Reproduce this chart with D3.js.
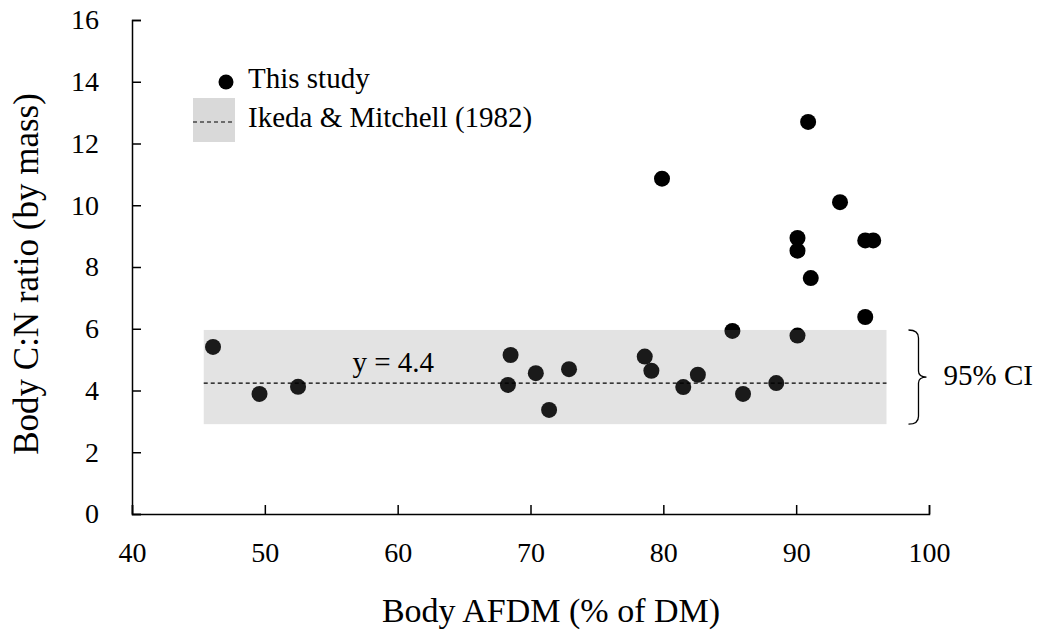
<!DOCTYPE html>
<html>
<head>
<meta charset="utf-8">
<script src="https://cdn.jsdelivr.net/npm/d3@7"></script>
<style>
  body { margin: 0; background: #fff; }
  text { font-family: 'Liberation Serif', 'Times New Roman', serif; fill: #000; }
</style>
</head>
<body>
<div id="chart"></div>
<script>
// data
const afdm = [46.1, 49.6, 52.5, 68.3, 68.5, 70.4, 71.4, 72.9, 78.6, 79.1, 79.9, 81.5, 82.6,
  85.2, 86.0, 88.5, 90.1, 90.1, 90.1, 90.9, 91.1, 93.3, 95.2, 95.2, 95.8]
const cnRatio = [5.41, 3.89, 4.12, 4.18, 5.15, 4.56, 3.37, 4.69, 5.10, 4.64, 10.86, 4.11, 4.51,
  5.93, 3.89, 4.24, 5.78, 8.53, 8.94, 12.70, 7.64, 10.10, 6.38, 8.86, 8.86]
const xTicks = [40, 50, 60, 70, 80, 90, 100]
const yTicks = [0, 2, 4, 6, 8, 10, 12, 14, 16]
const ikedaMean = 4.24
const ciRange = [2.91, 5.96]
const bandExtent = [45.4, 96.8]

const width = 1041
const height = 637
const margin = { top: 20, right: 112, bottom: 123, left: 132 }

const svg = d3.select('#chart')
  .append('svg')
  .attr('width', width)
  .attr('height', height)

const x = d3.scaleLinear()
  .domain([40, 100])
  .range([margin.left, width - margin.right])

const y = d3.scaleLinear()
  .domain([0, 16])
  .range([height - margin.bottom, margin.top])

// axes, ticks pointing inward
const xAxis = svg.append('g')
  .attr('transform', `translate(0,${y(0)})`)
  .call(d3.axisBottom(x).tickValues(xTicks).tickSize(-9).tickSizeOuter(-9).tickPadding(28))
const yAxis = svg.append('g')
  .attr('transform', `translate(${x(40)},0)`)
  .call(d3.axisLeft(y).tickValues(yTicks).tickSize(-9).tickSizeOuter(-9).tickPadding(33))

;[xAxis, yAxis].forEach(ax => {
  ax.select('.domain').attr('stroke', '#000').attr('stroke-width', 1.5)
  ax.selectAll('.tick line').attr('stroke', '#000').attr('stroke-width', 1.5)
  ax.selectAll('.tick text')
    .style('font-family', "'Liberation Serif', serif")
    .style('font-size', '28px')
    .attr('fill', '#000')
})

// points
svg.append('g')
  .selectAll('circle')
  .data(afdm.map((d, i) => ({ x: d, y: cnRatio[i] })))
  .join('circle')
  .attr('cx', d => x(d.x))
  .attr('cy', d => y(d.y))
  .attr('r', 8)
  .attr('fill', '#000')

// 95% CI band drawn over the points (semi-transparent)
svg.append('rect')
  .attr('x', x(bandExtent[0]))
  .attr('y', y(ciRange[1]))
  .attr('width', x(bandExtent[1]) - x(bandExtent[0]))
  .attr('height', y(ciRange[0]) - y(ciRange[1]))
  .attr('fill', 'rgb(125,125,125)')
  .attr('fill-opacity', 0.21)

svg.append('line')
  .attr('x1', x(bandExtent[0]))
  .attr('x2', x(bandExtent[1]))
  .attr('y1', y(ikedaMean))
  .attr('y2', y(ikedaMean))
  .attr('stroke', '#000')
  .attr('stroke-width', 1.2)
  .attr('stroke-dasharray', '4,3')

svg.append('text')
  .attr('x', x(56.6))
  .attr('y', y(ikedaMean) - 11.5)
  .style('font-size', '29px')
  .text('y = 4.4')

// bracket for the CI
const bx = x(bandExtent[1]) + 22
const yTop = y(ciRange[1])
const yBot = y(ciRange[0])
const yMid = (yTop + yBot) / 2
svg.append('path')
  .attr('d', `M${bx},${yTop} Q${bx + 10},${yTop} ${bx + 10},${yTop + 8} L${bx + 10},${yMid - 6} Q${bx + 10},${yMid} ${bx + 18},${yMid} Q${bx + 10},${yMid} ${bx + 10},${yMid + 6} L${bx + 10},${yBot - 8} Q${bx + 10},${yBot} ${bx},${yBot}`)
  .attr('fill', 'none')
  .attr('stroke', '#000')
  .attr('stroke-width', 1.3)

svg.append('text')
  .attr('x', bx + 35)
  .attr('y', yMid + 8)
  .style('font-size', '29px')
  .text('95% CI')

// legend
const legend = svg.append('g').attr('transform', 'translate(193,70)')
legend.append('circle')
  .attr('cx', 33)
  .attr('cy', 12)
  .attr('r', 7.5)
  .attr('fill', '#000')
legend.append('text')
  .attr('x', 55)
  .attr('y', 18)
  .style('font-size', '29px')
  .text('This study')
legend.append('rect')
  .attr('x', 0)
  .attr('y', 28)
  .attr('width', 42)
  .attr('height', 44)
  .attr('fill', '#d9d9d9')
legend.append('line')
  .attr('x1', 0)
  .attr('x2', 42)
  .attr('y1', 52)
  .attr('y2', 52)
  .attr('stroke', '#000')
  .attr('stroke-width', 1.2)
  .attr('stroke-dasharray', '4,3')
legend.append('text')
  .attr('x', 55)
  .attr('y', 57)
  .style('font-size', '29px')
  .text('Ikeda & Mitchell (1982)')

// axis titles
svg.append('text')
  .attr('x', 551)
  .attr('y', 622)
  .attr('text-anchor', 'middle')
  .style('font-size', '34px')
  .text('Body AFDM (% of DM)')

svg.append('text')
  .attr('transform', 'translate(38,274) rotate(-90)')
  .attr('text-anchor', 'middle')
  .style('font-size', '35px')
  .text('Body C:N ratio (by mass)')
</script>
</body>
</html>
